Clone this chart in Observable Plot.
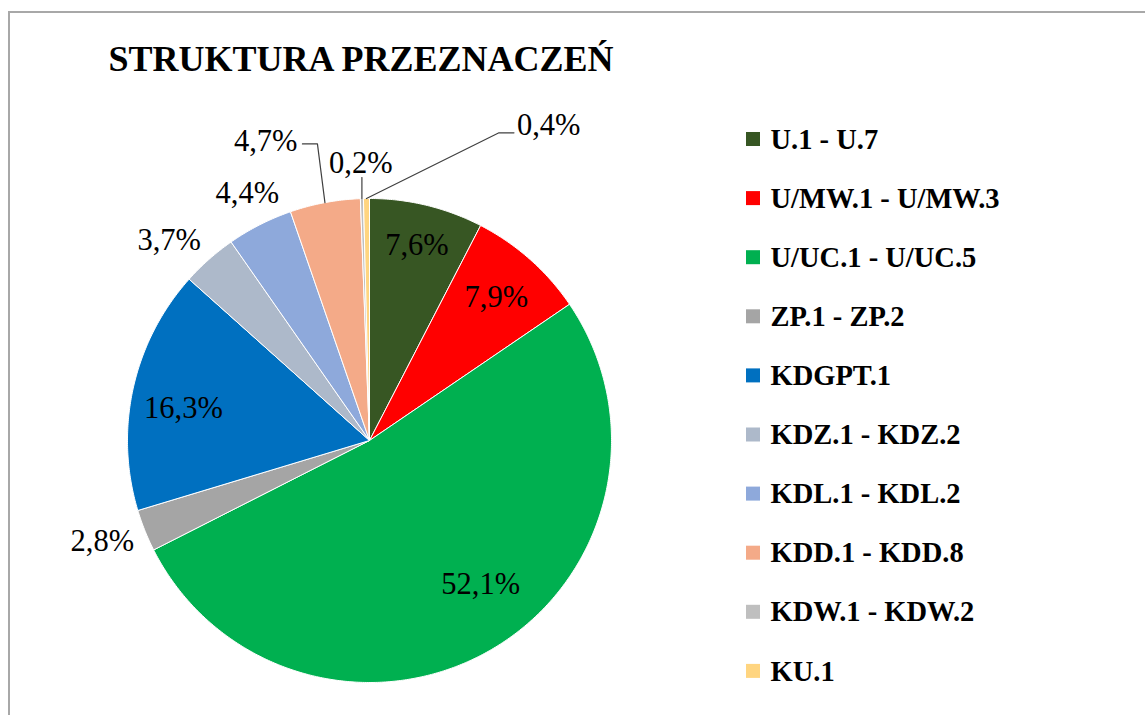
<!DOCTYPE html>
<html><head><meta charset="utf-8">
<script src="https://cdn.jsdelivr.net/npm/d3@7"></script>
<script src="https://cdn.jsdelivr.net/npm/@observablehq/plot@0.6"></script>
<style>
body{margin:0;background:#fff;}
#wrap{position:relative;width:1145px;height:715px;overflow:hidden;background:#fff;}
#frame{position:absolute;left:8px;top:11px;width:1300px;height:900px;border-left:2px solid #a8a8a8;border-top:2px solid #a8a8a8;box-sizing:border-box;}
#chart{position:absolute;left:0;top:0;}
</style></head><body><div id="wrap"><div id="frame"></div><div id="chart"></div></div>
<script>
// ---- data ----
const title = "STRUKTURA PRZEZNACZEŃ";
const categories = ["U.1 - U.7","U/MW.1 - U/MW.3","U/UC.1 - U/UC.5","ZP.1 - ZP.2","KDGPT.1","KDZ.1 - KDZ.2","KDL.1 - KDL.2","KDD.1 - KDD.8","KDW.1 - KDW.2","KU.1"];
const shares = [7.6, 7.9, 52.1, 2.8, 16.3, 3.7, 4.4, 4.7, 0.2, 0.4];
const shareLabels = ["7,6%","7,9%","52,1%","2,8%","16,3%","3,7%","4,4%","4,7%","0,2%","0,4%"];
const colors = ["#375623","#FF0000","#00B050","#A5A5A5","#0070C0","#ADB9CA","#8EA9DB","#F4AA88","#BFBFBF","#FFD580"];

// ---- layout ----
const serif = "'Liberation Serif', 'Times New Roman', serif";
const cx = 369, cy = 440, R = 242;
const labelAngleShift = [0, 0, -7.2, 1.2, -2.8, -3.5, 0.7, -8.5, 0, 30.3];
const labelRadius = [0.83, 0.79, 0.75, 1.18, 0.78, 1.17, 1.14, 1.31, 1.145, 1.5];
const leaderStyle = [null, null, null, null, null, null, null, "right", "below", "left"];
const labelFont = 30.5;
const legend = {x: 746, top: 139, step: 59.1, box: 14, textX: 770, font: 28.5};

const rows = categories.map((name, i) => ({name, value: shares[i], label: shareLabels[i], i}));
const arcs = d3.pie().value(d => d.value).sort(null)(rows);
const deg = 180 / Math.PI;
const pt = (aDeg, r) => [cx + r * Math.sin(aDeg / deg), cy - r * Math.cos(aDeg / deg)];

// slice polygons
const slicePts = [];
arcs.forEach(a => {
  const a0 = a.startAngle * deg, a1 = a.endAngle * deg;
  const n = Math.max(2, Math.ceil((a1 - a0) / 0.5));
  slicePts.push({name: a.data.name, x: cx, y: cy});
  for (let k = 0; k <= n; k++) {
    const [x, y] = pt(a0 + (a1 - a0) * k / n, R);
    slicePts.push({name: a.data.name, x, y});
  }
  slicePts.push({name: a.data.name, x: cx, y: cy});
});

// labels
const labelPts = arcs.map(a => {
  const i = a.data.i;
  const mid = (a.startAngle + a.endAngle) / 2 * deg;
  const [x, y] = pt(mid + labelAngleShift[i], R * labelRadius[i]);
  return {text: a.data.label, x, y, mid, i};
});

// leader lines
const leaderPts = [];
labelPts.forEach(l => {
  const s = leaderStyle[l.i];
  if (!s) return;
  const [sx, sy] = pt(l.mid, R);
  const half = l.text.length * labelFont * 0.26;
  let pts;
  if (s === "right") { const ex = l.x + half + 5, ey = l.y + 3; pts = [[sx, sy], [ex + 15, ey], [ex, ey]]; }
  else if (s === "left") { const ex = l.x - half - 3, ey = l.y + 8; pts = [[sx, sy], [ex - 15, ey], [ex, ey]]; }
  else { pts = [[sx, sy], [sx, l.y + 14]]; }
  pts.forEach(([x, y]) => leaderPts.push({k: l.i, x, y}));
});

// legend
const legendRows = categories.map((name, i) => ({name, y: legend.top + i * legend.step}));

const chart = Plot.plot({
  width: 1145, height: 715, margin: 0,
  x: {domain: [0, 1145], range: [0, 1145], axis: null},
  y: {domain: [0, 715], range: [0, 715], axis: null},
  color: {domain: categories, range: colors},
  style: {background: "transparent", fontFamily: serif},
  marks: [
    Plot.line(slicePts, {x: "x", y: "y", z: "name", fill: "name", stroke: "white", strokeWidth: 1, strokeLinejoin: "round"}),
    Plot.line(leaderPts, {x: "x", y: "y", z: "k", stroke: "#404040", strokeWidth: 1.2}),
    Plot.text(labelPts, {x: "x", y: "y", text: "text", fontSize: labelFont, fontFamily: serif, fill: "black"}),
    Plot.text([{t: title}], {x: () => 108, y: () => 59, text: "t", textAnchor: "start", fontSize: 36, fontWeight: "bold", fontFamily: serif, fill: "black"}),
    Plot.rect(legendRows, {x1: () => legend.x, x2: () => legend.x + legend.box, y1: d => d.y - legend.box / 2, y2: d => d.y + legend.box / 2, fill: "name"}),
    Plot.text(legendRows, {x: () => legend.textX, y: "y", text: "name", textAnchor: "start", fontSize: legend.font, fontWeight: "bold", fontFamily: serif, fill: "black"})
  ]
});
document.getElementById("chart").appendChild(chart);
</script>
</body></html>
